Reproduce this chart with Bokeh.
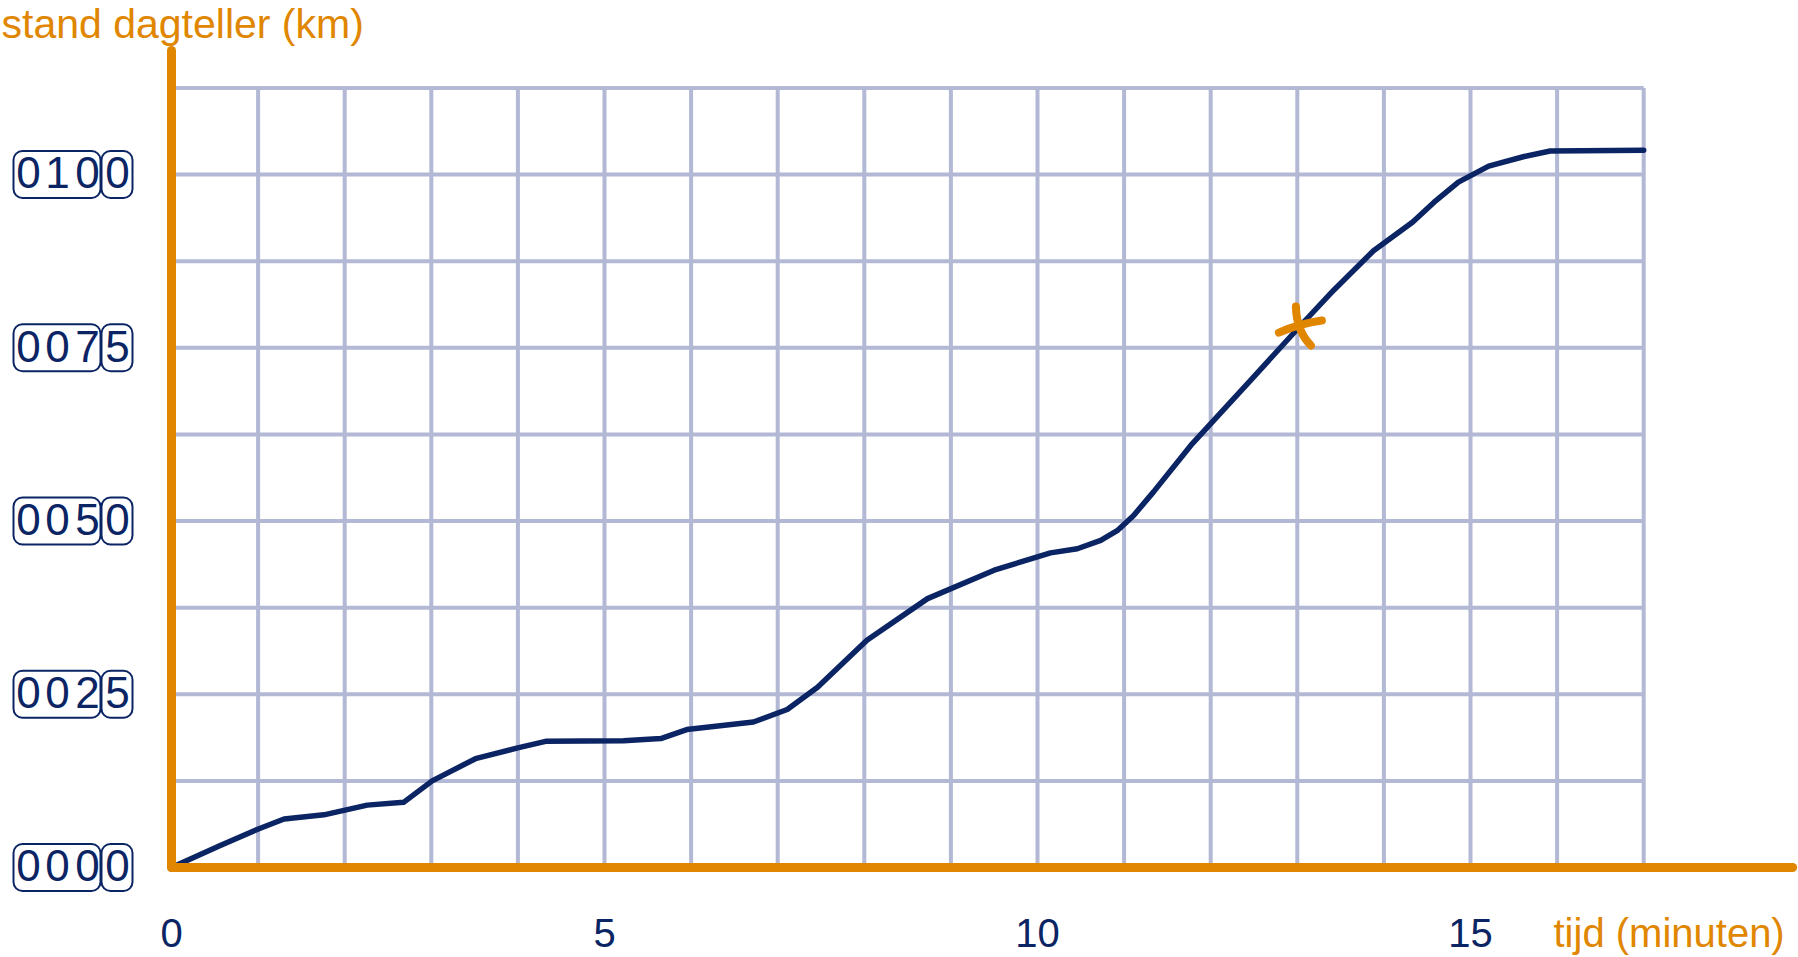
from bokeh.plotting import figure
from bokeh.models import Range1d, BoxAnnotation
from bokeh.core.properties import value
from bokeh.embed import file_html
from bokeh.resources import INLINE

# ---------------- data ----------------
time_min = [0, 0.57, 1.01, 1.30, 1.76, 2.26, 2.68, 3.01, 3.51, 4.01, 4.32, 5.22,
            5.65, 5.95, 6.72, 7.11, 7.46, 8.03, 8.73, 9.50, 10.15, 10.46, 10.73,
            10.92, 11.11, 11.34, 11.77, 12.46, 13.03, 13.42, 13.88, 14.33, 14.58,
            14.86, 15.21, 15.62, 15.92, 17.0]
odometer_km = [0, 3.2, 5.6, 7.0, 7.6, 9.0, 9.4, 12.5, 15.7, 17.3, 18.2, 18.3,
               18.6, 19.9, 21.0, 22.8, 26.0, 32.8, 38.8, 42.9, 45.4, 46.0, 47.2,
               48.6, 50.8, 54.2, 60.9, 70.3, 78.1, 83.3, 89.0, 93.1, 96.0,
               98.9, 101.2, 102.6, 103.4, 103.5]

marker_x = [13.03]
marker_y = [78.2]

x_ticks = [0, 5, 10, 15]
x_tick_labels = ["0", "5", "10", "15"]
y_ticks = [0, 25, 50, 75, 100]
y_tick_labels = ["0000", "0025", "0050", "0075", "0100"]
x_grid = list(range(0, 18))
y_grid = [0, 12.5, 25, 37.5, 50, 62.5, 75, 87.5, 100, 112.5]
x_axis_end = 18.72
y_axis_end = 117.9

title_text = "stand dagteller (km)"
xlabel_text = "tijd (minuten)"

# ---------------- layout / style ----------------
W, H = 1798, 957
PX_X = 86.6      # px per minute
PX_Y = 6.93      # px per km
X0_REF, Y0_REF = 171, 867
BASE_FIX = 0.4   # svg text baseline correction (fraction of font size)

def dx(px):
    return px / PX_X

def dy(px):
    return px / PX_Y

def y_of_ref(ref_px):
    return (Y0_REF - ref_px) / PX_Y

x_start = -X0_REF / PX_X
x_end = x_start + W / PX_X
y_end = Y0_REF / PX_Y
y_start = y_end - H / PX_Y

ORANGE = "#e08600"
NAVY = "#0b2463"
GRID = "#b3b8d5"
FONT = value("Liberation Sans")

p = figure(width=W, height=H, output_backend="svg", toolbar_location=None,
           x_range=Range1d(x_start, x_end), y_range=Range1d(y_start, y_end),
           x_axis_type=None, y_axis_type=None, min_border=0,
           outline_line_color=None)
p.xgrid.visible = False
p.ygrid.visible = False
p.background_fill_color = "white"
p.border_fill_color = "white"

# grid
gx = x_grid[1:]
p.segment(x0=gx, y0=[0] * len(gx), x1=gx, y1=[y_grid[-1]] * len(gx),
          line_color=GRID, line_width=4)
gy = y_grid[1:]
p.segment(x0=[0] * len(gy), y0=gy, x1=[x_grid[-1]] * len(gy), y1=gy,
          line_color=GRID, line_width=4)

# data line
p.line(time_min, odometer_km, line_color=NAVY, line_width=5.5,
       line_join="round", line_cap="round")

# axes (orange)
p.segment(x0=[0], y0=[0], x1=[0], y1=[y_axis_end], line_color=ORANGE,
          line_width=9, line_cap="round")
p.segment(x0=[0], y0=[0], x1=[x_axis_end], y1=[0], line_color=ORANGE,
          line_width=9, line_cap="round")

# hand drawn cross marker (offsets in px)
mx, my = marker_x[0], marker_y[0]
p.quadratic(x0=[mx + dx(-4), mx + dx(-21)], y0=[my + dy(19), my + dy(-7)],
            x1=[mx + dx(11), mx + dx(22)], y1=[my + dy(-20), my + dy(5)],
            cx=[mx + dx(-3.5), mx + dx(0)], cy=[my + dy(-5), my + dy(2)],
            line_color=ORANGE, line_width=8, line_cap="round")

# x tick labels
fs_x = 40
p.text(x=x_ticks, y=[y_of_ref(948 - BASE_FIX * fs_x)] * len(x_ticks),
       text=x_tick_labels, text_align="center", text_baseline="alphabetic",
       text_font=FONT, text_font_size=f"{fs_x}px", text_color=NAVY)

# x axis label
p.text(x=[dx(1553 - X0_REF)], y=[y_of_ref(948 - BASE_FIX * fs_x)],
       text=[xlabel_text], text_align="left", text_baseline="alphabetic",
       text_font=FONT, text_font_size=f"{fs_x}px", text_color=ORANGE)

# y axis title
fs_t = 41
p.text(x=[x_start + dx(1)], y=[y_of_ref(40 - BASE_FIX * fs_t)], text=[title_text],
       text_align="left", text_baseline="alphabetic",
       text_font=FONT, text_font_size=f"{fs_t}px", text_color=ORANGE)

# odometer style y tick labels
fs_d = 44
digit_px = [28, 57, 87, 117]
box1 = (13, 100)
box2 = (101, 132)
half_h = dy(23.5)
for v, lab in zip(y_ticks, y_tick_labels):
    for (l, r) in (box1, box2):
        p.add_layout(BoxAnnotation(left=dx(l - X0_REF), right=dx(r - X0_REF),
                                   bottom=v - half_h, top=v + half_h,
                                   fill_color=None, fill_alpha=0,
                                   line_color=NAVY, line_alpha=1,
                                   line_width=2, border_radius=9))
    p.text(x=[dx(px - X0_REF) for px in digit_px],
           y=[v - dy(16 - BASE_FIX * fs_d)] * 4,
           text=list(lab), text_align="center", text_baseline="alphabetic",
           text_font=FONT, text_font_size=f"{fs_d}px", text_color=NAVY)

open("out.html", "w").write(file_html(p, INLINE))
